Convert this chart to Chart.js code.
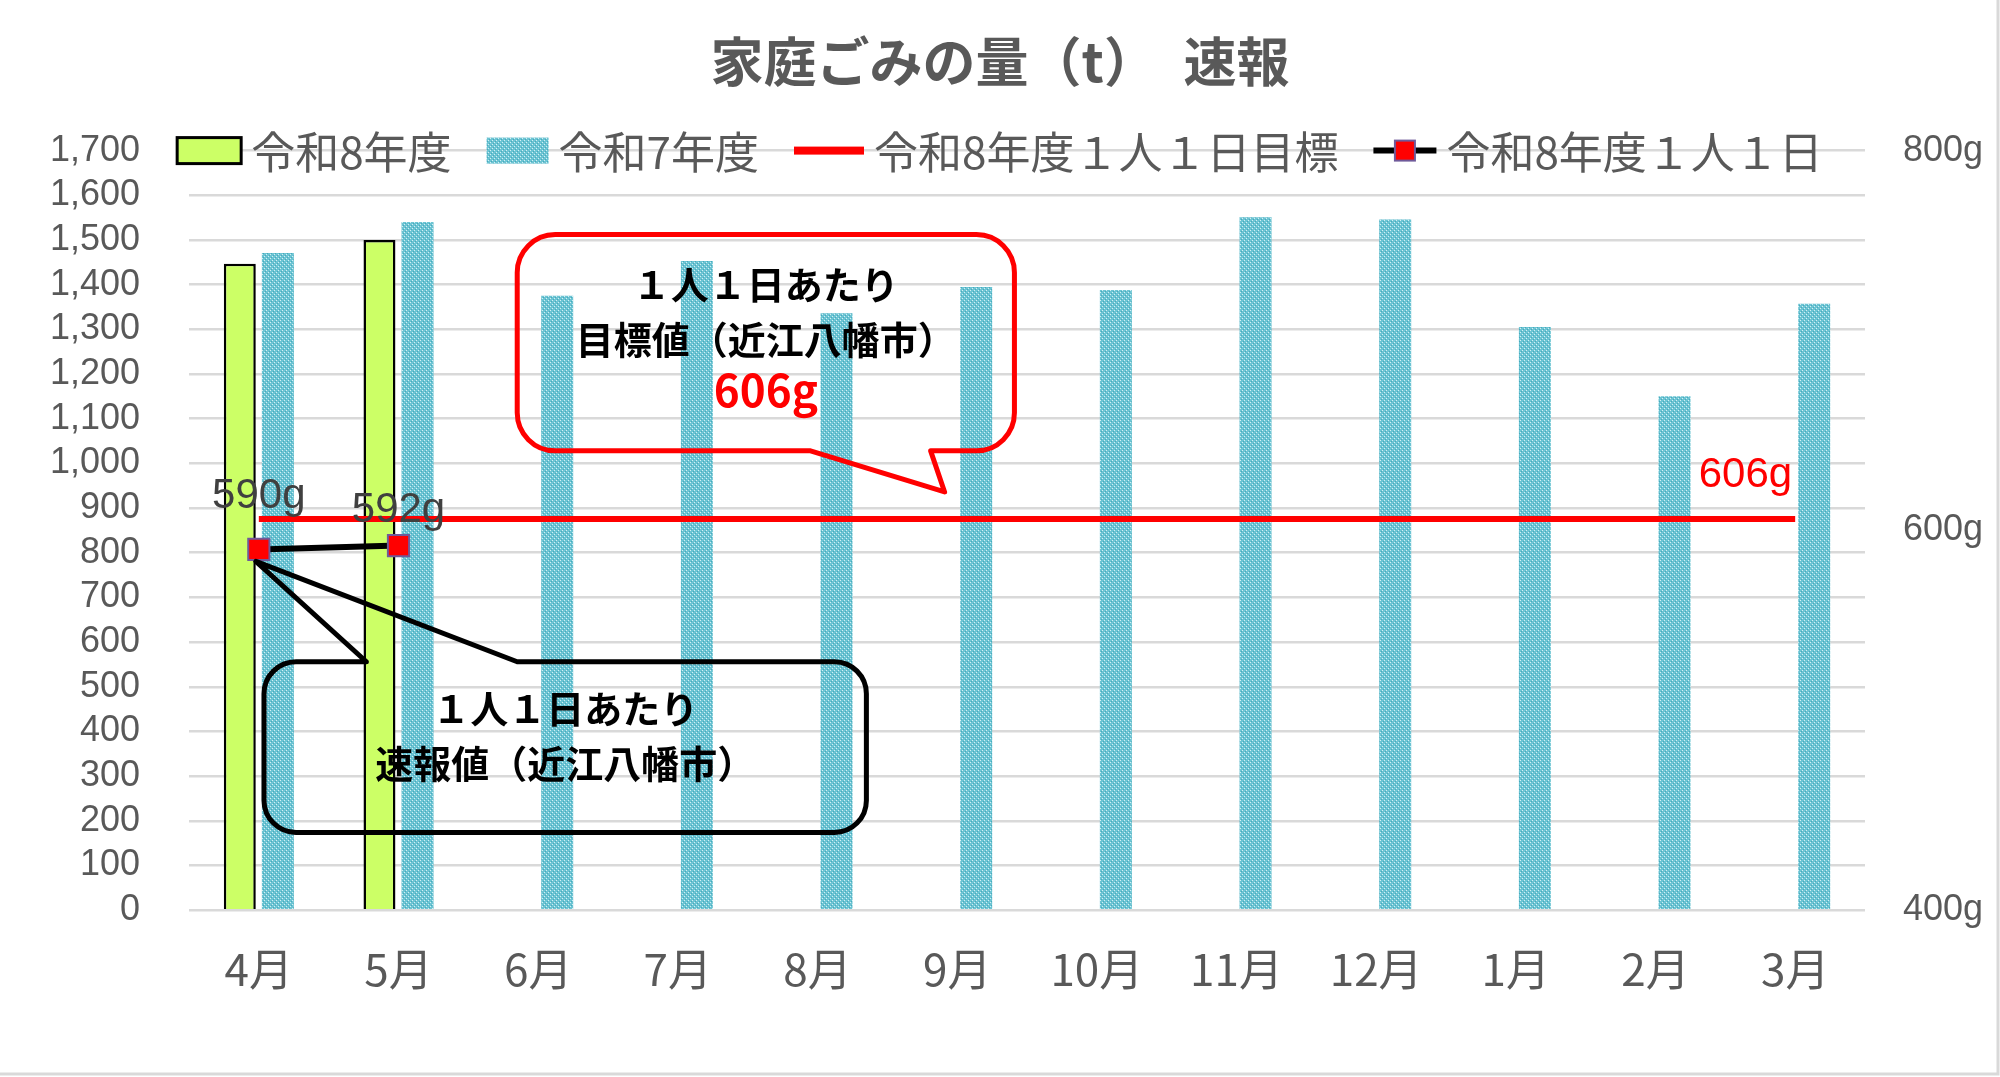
<!DOCTYPE html>
<html lang="ja">
<head>
<meta charset="utf-8">
<title>家庭ごみの量（t）速報</title>
<script src="https://cdn.jsdelivr.net/npm/chart.js@4.4.1/dist/chart.umd.min.js"></script>
<style>
  html, body { margin: 0; padding: 0; background: #fff; }
  canvas { display: block; }
</style>
</head>
<body>
<canvas id="gomiChart" width="2000" height="1077"></canvas>
<script>
// データ
var months = ['4月', '5月', '6月', '7月', '8月', '9月', '10月', '11月', '12月', '1月', '2月', '3月'];
var r8Tons = [1447, 1500, null, null, null, null, null, null, null, null, null, null];
var r7Tons = [1471, 1540, 1375, 1453, 1336, 1395, 1388, 1551, 1546, 1305, 1150, 1357];
var r8PerPerson = [590, 592, null, null, null, null, null, null, null, null, null, null];
var goalPerPerson = [606, 606, 606, 606, 606, 606, 606, 606, 606, 606, 606, 606];
var seriesNames = ['令和8年度', '令和7年度', '令和8年度１人１日目標', '令和8年度１人１日'];
var tonMax = 1700;
var gramMin = 400, gramMax = 800;

var JP = '"Noto Sans CJK JP", "Noto Sans", sans-serif';
var NUM = '"Liberation Sans", Arial, sans-serif';
var GRAY = '#595959';

// 令和7年度の網掛け
function makeDots() {
    var c = document.createElement('canvas');
    c.width = 4; c.height = 4;
    var g = c.getContext('2d');
    g.fillStyle = '#6cc4d3';
    g.fillRect(0, 0, 4, 4);
    g.fillStyle = '#d2eff4';
    g.fillRect(0, 0, 1, 1);
    g.fillRect(2, 2, 1, 1);
    g.fillStyle = '#48a9bc';
    g.fillRect(1, 3, 1, 1);
    g.fillRect(3, 1, 1, 1);
    return g.createPattern(c, 'repeat');
}
var dots = makeDots();

function drawSquare(ctx, x, y, s) {
    ctx.fillStyle = '#ff0000';
    ctx.strokeStyle = '#6f5a9a';
    ctx.lineWidth = 2;
    ctx.fillRect(x - s / 2, y - s / 2, s, s);
    ctx.strokeRect(x - s / 2, y - s / 2, s, s);
}

var legendPlugin = {
    id: 'ownLegend',
    afterDraw: function (chart) {
        var ctx = chart.ctx;
        var y = chart.chartArea.top;
        var symW = [64, 62, 70, 63];
        ctx.save();
        ctx.font = '44px ' + JP;
        var total = 0;
        seriesNames.forEach(function (name, i) {
            total += symW[i] + 10 + ctx.measureText(name).width;
        });
        total += 35 * 3;
        var x = chart.width / 2 - total / 2;
        seriesNames.forEach(function (name, i) {
            if (i === 0) {
                ctx.fillStyle = '#ccff66';
                ctx.fillRect(x, y - 13, symW[i], 26);
                ctx.strokeStyle = '#000';
                ctx.lineWidth = 3;
                ctx.strokeRect(x, y - 13, symW[i], 26);
            } else if (i === 1) {
                ctx.fillStyle = dots;
                ctx.fillRect(x, y - 13, symW[i], 26);
            } else if (i === 2) {
                ctx.fillStyle = '#ff0000';
                ctx.fillRect(x, y - 4, symW[i], 8);
            } else {
                ctx.strokeStyle = '#000';
                ctx.lineWidth = 6;
                ctx.beginPath();
                ctx.moveTo(x, y);
                ctx.lineTo(x + symW[i], y);
                ctx.stroke();
                drawSquare(ctx, x + symW[i] / 2, y, 20);
            }
            x += symW[i] + 10;
            ctx.fillStyle = GRAY;
            ctx.textAlign = 'left';
            ctx.textBaseline = 'middle';
            ctx.fillText(name, x, y + 2);
            x += ctx.measureText(name).width + 35;
        });
        ctx.restore();
    }
};

// 吹き出しと数値ラベル
function balloon(ctx, box, r, tail, color) {
    ctx.save();
    ctx.strokeStyle = color;
    ctx.lineWidth = 5;
    ctx.lineJoin = 'round';
    ctx.beginPath();
    var x0 = box.x0, x1 = box.x1, y0 = box.y0, y1 = box.y1;
    ctx.moveTo(x0 + r, y0);
    if (tail.side === 'top') {
        ctx.lineTo(tail.a, y0);
        ctx.lineTo(tail.tx, tail.ty);
        ctx.lineTo(tail.b, y0);
    }
    ctx.lineTo(x1 - r, y0);
    ctx.arcTo(x1, y0, x1, y0 + r, r);
    ctx.lineTo(x1, y1 - r);
    ctx.arcTo(x1, y1, x1 - r, y1, r);
    if (tail.side === 'bottom') {
        ctx.lineTo(tail.b, y1);
        ctx.lineTo(tail.tx, tail.ty);
        ctx.lineTo(tail.a, y1);
    }
    ctx.lineTo(x0 + r, y1);
    ctx.arcTo(x0, y1, x0, y1 - r, r);
    ctx.lineTo(x0, y0 + r);
    ctx.arcTo(x0, y0, x0 + r, y0, r);
    ctx.closePath();
    ctx.stroke();
    ctx.restore();
}

var notesPlugin = {
    id: 'notes',
    afterDatasetsDraw: function (chart) {
        var ctx = chart.ctx;
        var xs = chart.scales.x, ys = chart.scales.y;
        var px = function (v) { return xs.getPixelForValue(v); };
        var py = function (v) { return ys.getPixelForValue(v); };

        // 目標値の吹き出し
        var rb = { x0: px(1.85), x1: px(5.41), y0: py(1512), y1: py(1028) };
        balloon(ctx, rb, 38, { side: 'bottom', a: px(3.95), b: px(4.81), tx: px(4.91), ty: py(936) }, '#ff0000');
        var cx = (rb.x0 + rb.x1) / 2;
        ctx.save();
        ctx.textAlign = 'center';
        ctx.textBaseline = 'middle';
        ctx.fillStyle = '#000';
        ctx.font = 'bold 38px ' + JP;
        ctx.fillText('１人１日あたり', cx, rb.y0 + 50);
        ctx.fillText('目標値（近江八幡市）', cx, rb.y0 + 105);
        ctx.fillStyle = '#ff0000';
        ctx.font = 'bold 44px ' + JP;
        ctx.fillText(goalPerPerson[0] + 'g', cx, rb.y0 + 156);
        ctx.restore();

        // 速報値の吹き出し
        var p0 = chart.getDatasetMeta(3).data[0];
        var bb = { x0: px(0.037), x1: px(4.35), y0: py(556), y1: py(174) };
        balloon(ctx, bb, 32, { side: 'top', a: px(0.77), b: px(1.85), tx: p0.x - 3, ty: p0.y + 12 }, '#000');
        cx = (bb.x0 + bb.x1) / 2;
        ctx.save();
        ctx.textAlign = 'center';
        ctx.textBaseline = 'middle';
        ctx.fillStyle = '#000';
        ctx.font = 'bold 38px ' + JP;
        ctx.fillText('１人１日あたり', cx, bb.y0 + 47);
        ctx.fillText('速報値（近江八幡市）', cx, bb.y0 + 102);
        ctx.restore();

        // 数値ラベル
        ctx.save();
        ctx.textBaseline = 'middle';
        ctx.font = '42px ' + NUM;
        ctx.fillStyle = '#404040';
        ctx.textAlign = 'center';
        var lift = [53, 35];
        chart.getDatasetMeta(3).data.forEach(function (pt, i) {
            if (r8PerPerson[i] == null) return;
            ctx.fillText(r8PerPerson[i] + 'g', pt.x, pt.y - lift[i]);
        });
        var goalPts = chart.getDatasetMeta(2).data;
        var last = goalPts[goalPts.length - 1];
        ctx.fillStyle = '#ff0000';
        ctx.textAlign = 'right';
        ctx.fillText(goalPerPerson[goalPerPerson.length - 1] + 'g', last.x - 3, last.y - 44);
        ctx.restore();

        // 外枠
        ctx.save();
        ctx.strokeStyle = '#d9d9d9';
        ctx.lineWidth = 3;
        ctx.beginPath();
        ctx.moveTo(chart.width - 2, 0);
        ctx.lineTo(chart.width - 2, chart.height - 3);
        ctx.lineTo(0, chart.height - 3);
        ctx.stroke();
        ctx.restore();
    }
};

var ctx = document.getElementById('gomiChart').getContext('2d');
var gomiChart = new Chart(ctx, {
    type: 'bar',
    data: {
        labels: months,
        datasets: [{
            label: seriesNames[0],
            data: r8Tons,
            backgroundColor: '#ccff66',
            borderColor: '#000000',
            borderWidth: 2.5,
            barPercentage: 0.84,
            categoryPercentage: 0.545,
            yAxisID: 'y',
            order: 2
        }, {
            label: seriesNames[1],
            data: r7Tons,
            backgroundColor: dots,
            borderWidth: 0,
            barPercentage: 0.84,
            categoryPercentage: 0.545,
            yAxisID: 'y',
            order: 3
        }, {
            type: 'line',
            label: seriesNames[2],
            data: goalPerPerson,
            borderColor: '#ff0000',
            borderWidth: 6,
            pointRadius: 0,
            yAxisID: 'y1',
            order: 1
        }, {
            type: 'line',
            label: seriesNames[3],
            data: r8PerPerson,
            borderColor: '#000000',
            borderWidth: 6,
            pointStyle: 'rect',
            pointRadius: 15,
            pointBackgroundColor: '#ff0000',
            pointBorderColor: '#6f5a9a',
            pointBorderWidth: 2,
            spanGaps: false,
            yAxisID: 'y1',
            order: 0
        }]
    },
    options: {
        responsive: false,
        animation: false,
        devicePixelRatio: 1,
        layout: { padding: { top: 0, left: 0, right: 0, bottom: 56 } },
        plugins: {
            legend: { display: false },
            tooltip: { enabled: false },
            title: {
                display: true,
                text: '家庭ごみの量（t）　速報',
                color: GRAY,
                font: { family: JP, size: 53, weight: 'bold' },
                padding: { top: 30, bottom: 57 }
            }
        },
        scales: {
            x: {
                grid: { display: false },
                border: { display: false },
                ticks: {
                    color: GRAY,
                    font: { family: JP, size: 44 },
                    padding: 25,
                    maxRotation: 0,
                    autoSkip: false
                }
            },
            y: {
                position: 'left',
                min: 0,
                max: tonMax,
                afterFit: function (s) { s.width = 189; },
                grid: { color: '#d9d9d9', lineWidth: 2.5, drawTicks: false },
                border: { display: false },
                ticks: {
                    stepSize: 100,
                    autoSkip: false,
                    color: GRAY,
                    padding: 49,
                    font: { family: NUM, size: 36 },
                    callback: function (v) { return v.toLocaleString('en-US'); }
                }
            },
            y1: {
                position: 'right',
                min: gramMin,
                max: gramMax,
                afterFit: function (s) { s.width = 135; },
                grid: { display: false, drawTicks: false },
                border: { display: false },
                ticks: {
                    stepSize: 200,
                    autoSkip: false,
                    color: GRAY,
                    padding: 38,
                    font: { family: NUM, size: 36 },
                    callback: function (v) { return v + 'g'; }
                }
            }
        }
    },
    plugins: [legendPlugin, notesPlugin]
});
</script>
</body>
</html>
